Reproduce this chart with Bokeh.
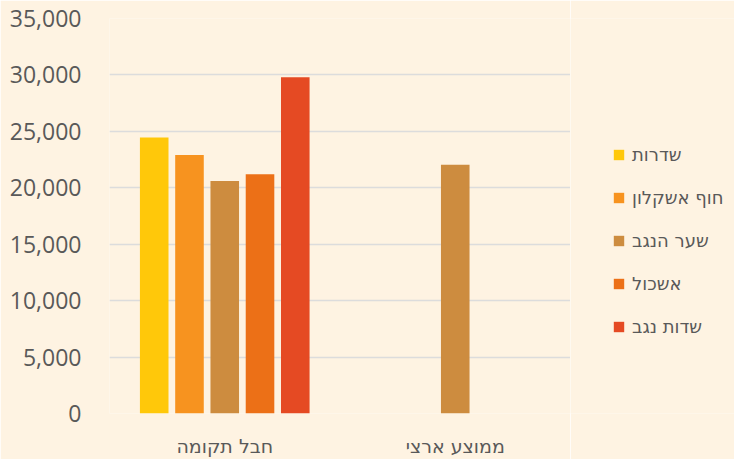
from bokeh.plotting import figure
from bokeh.layouts import row
from bokeh.models import (FactorRange, ColumnDataSource, Legend, LegendItem,
                          NumeralTickFormatter, FixedTicker, Range1d)
from bokeh.transform import dodge
from bokeh.embed import file_html
from bokeh.resources import INLINE

categories = ["חבל תקומה", "ממוצע ארצי"]
series_names = ["שדרות", "חוף אשקלון", "שער הנגב", "אשכול", "שדות נגב"]
sderot = [24450, 0]
hof_ashkelon = [22900, 0]
shaar_hanegev = [20600, 22050]
eshkol = [21200, 0]
sdot_negev = [29800, 0]
colors = ["#FFC80A", "#F7931F", "#CD8C3F", "#EC7017", "#E54A23"]
y_ticks = [0, 5000, 10000, 15000, 20000, 25000, 30000, 35000]

series_values = [sderot, hof_ashkelon, shaar_hanegev, eshkol, sdot_negev]
data = {"cat": categories}
for i, vals in enumerate(series_values):
    data[f"s{i}"] = vals
source = ColumnDataSource(data)

BG = "#FEF3E2"
TXT = "#595959"
FONT = "Open Sans"
HFONT = "DejaVu Sans"

p = figure(width=570, height=459, output_backend="svg", toolbar_location=None,
           x_range=FactorRange(factors=categories, range_padding=0),
           y_range=(0, 35000),
           min_border_left=109, min_border_right=0,
           min_border_top=18, min_border_bottom=42)
p.background_fill_color = BG
p.border_fill_color = BG
p.outline_line_color = None

offsets = [-0.306, -0.153, 0.0, 0.153, 0.306]
for i, name in enumerate(series_names):
    p.vbar(x=dodge("cat", offsets[i], range=p.x_range), top=f"s{i}",
           width=0.124, source=source, fill_color=colors[i], line_color=None)

p.xgrid.grid_line_color = None
p.ygrid.grid_line_color = "#DCDCDC"
p.ygrid.grid_line_width = 1.5
p.yaxis.ticker = FixedTicker(ticks=y_ticks)
p.yaxis.formatter = NumeralTickFormatter(format="0,0")
for ax in (p.xaxis[0], p.yaxis[0]):
    ax.axis_line_color = None
    ax.major_tick_line_color = None
    ax.minor_tick_line_color = None
    ax.major_label_text_color = TXT
p.yaxis.major_label_text_font = FONT
p.yaxis.major_label_text_font_size = "23px"
p.yaxis.major_label_standoff = 22
p.xaxis.major_label_text_font = HFONT
p.xaxis.major_label_text_font_size = "19px"
p.xaxis.major_label_standoff = 15

# legend panel (separate figure to the right)
lg = figure(width=164, height=459, output_backend="svg", toolbar_location=None,
            x_range=Range1d(0, 1), y_range=Range1d(0, 1),
            x_axis_type=None, y_axis_type=None,
            min_border_left=0, min_border_right=0,
            min_border_top=0, min_border_bottom=0)
lg.background_fill_color = BG
lg.border_fill_color = BG
lg.outline_line_color = None
lg.xgrid.visible = False
lg.ygrid.visible = False
items = []
for i, name in enumerate(series_names):
    r = lg.vbar(x=[-5], top=[0], width=0.1, fill_color=colors[i], line_color=None)
    items.append(LegendItem(label=name, renderers=[r]))
legend = Legend(items=items, location=(42, 76), orientation="vertical",
                glyph_width=13, glyph_height=13, label_height=20,
                spacing=22, padding=0, margin=0,
                label_text_font=HFONT, label_text_font_size="18px",
                label_text_color=TXT, label_standoff=7,
                background_fill_alpha=0, border_line_color=None)
lg.add_layout(legend, "center")

layout = row(p, lg, spacing=0)
open("out.html", "w").write(file_html(layout, INLINE))
